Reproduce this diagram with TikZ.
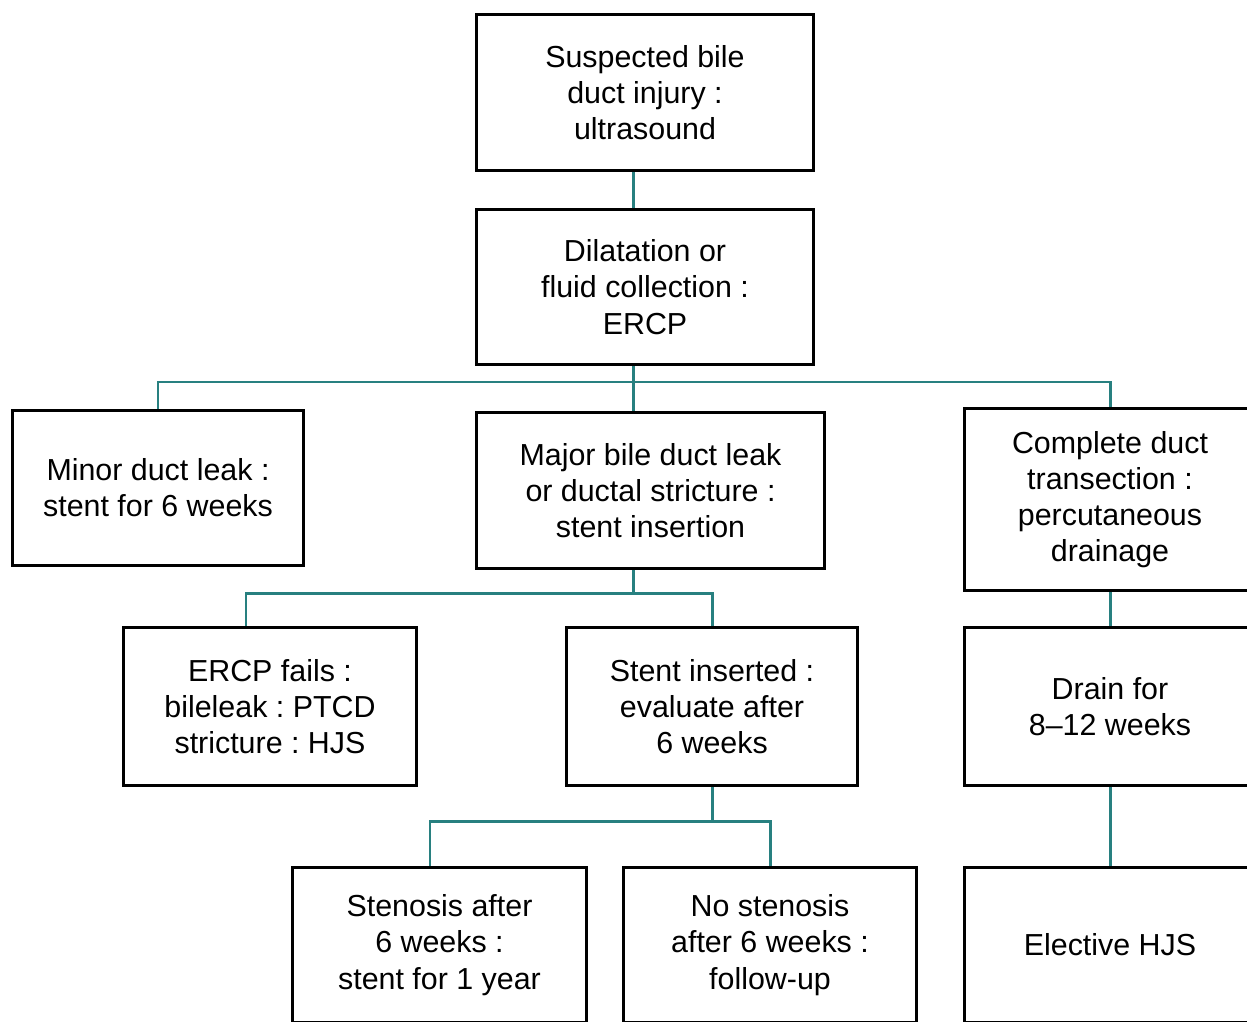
\documentclass[tikz,border=0pt]{standalone}
\usepackage{fontspec}
\setmainfont{Liberation Sans}
\frenchspacing
\usetikzlibrary{calc}
\definecolor{linkteal}{RGB}{40,128,128}
\newcommand{\boxfont}{\fontsize{17.3}{20.6}\selectfont}

\begin{document}
\begin{tikzpicture}[x=0.02cm, y=-0.02cm,
    box/.style={draw, line width=2.2pt, align=center, inner sep=0pt, font=\boxfont},
    link/.style={draw=linkteal, line width=1.7pt}]
  \useasboundingbox (0,0) rectangle (1247,1021);
  \clip (0,0) rectangle (1247,1021);

  % boxes
  \node[box, minimum width=6.74cm, minimum height=3.12cm] (usg) at (645,92.5)
    {Suspected bile\\duct injury :\\ultrasound};
  \node[box, minimum width=6.74cm, minimum height=3.1cm] (ercp) at (645,287)
    {Dilatation or\\fluid collection :\\ERCP};
  \node[box, minimum width=5.82cm, minimum height=3.1cm] (minor) at (158,488)
    {Minor duct leak :\\stent for 6 weeks};
  \node[box, minimum width=6.96cm, minimum height=3.12cm] (major) at (650.5,490.5)
    {Major bile duct leak\\or ductal stricture :\\stent insertion};
  \node[box, minimum width=5.82cm, minimum height=3.64cm] (transect) at (1110,499.5)
    {Complete duct\\transection :\\percutaneous\\drainage};
  \node[box, minimum width=5.86cm, minimum height=3.16cm] (fails) at (270,706.5)
    {ERCP fails :\\bileleak : PTCD\\stricture : HJS};
  \node[box, minimum width=5.82cm, minimum height=3.16cm] (stent) at (712,706.5)
    {Stent inserted :\\evaluate after\\6 weeks};
  \node[box, minimum width=5.82cm, minimum height=3.16cm] (drain) at (1110,706.5)
    {Drain for\\8--12 weeks};
  \node[box, minimum width=5.88cm, minimum height=3.1cm] (steno) at (439.5,945)
    {Stenosis after\\6 weeks :\\stent for 1 year};
  \node[box, minimum width=5.86cm, minimum height=3.1cm] (nosteno) at (770,945)
    {No stenosis\\after 6 weeks :\\follow-up};
  \node[box, minimum width=5.82cm, minimum height=3.1cm] (hjs) at (1110,945)
    {Elective HJS};

  % junctions
  \coordinate (j1) at (633,382);
  \coordinate (j2) at (633,593);
  \coordinate (j3) at (712,821);

  % connectors
  \draw[link] (usg.south -| j1) -- (ercp.north -| j1);
  \draw[link] (ercp.south -| j1) -- (major.north -| j1);
  \draw[link] (minor.north) |- (j1) -| (transect.north);
  \draw[link] (major.south -| j2) -- (j2);
  \draw[link] ($(fails.north)+(-24,0)$) |- (j2) -| (stent.north);
  \draw[link] (stent.south) -- (j3);
  \draw[link] ($(steno.north)+(-9.5,0)$) |- (j3) -| (nosteno.north);
  \draw[link] (transect.south) -- (drain.north);
  \draw[link] (drain.south) -- (hjs.north);
\end{tikzpicture}
\end{document}
